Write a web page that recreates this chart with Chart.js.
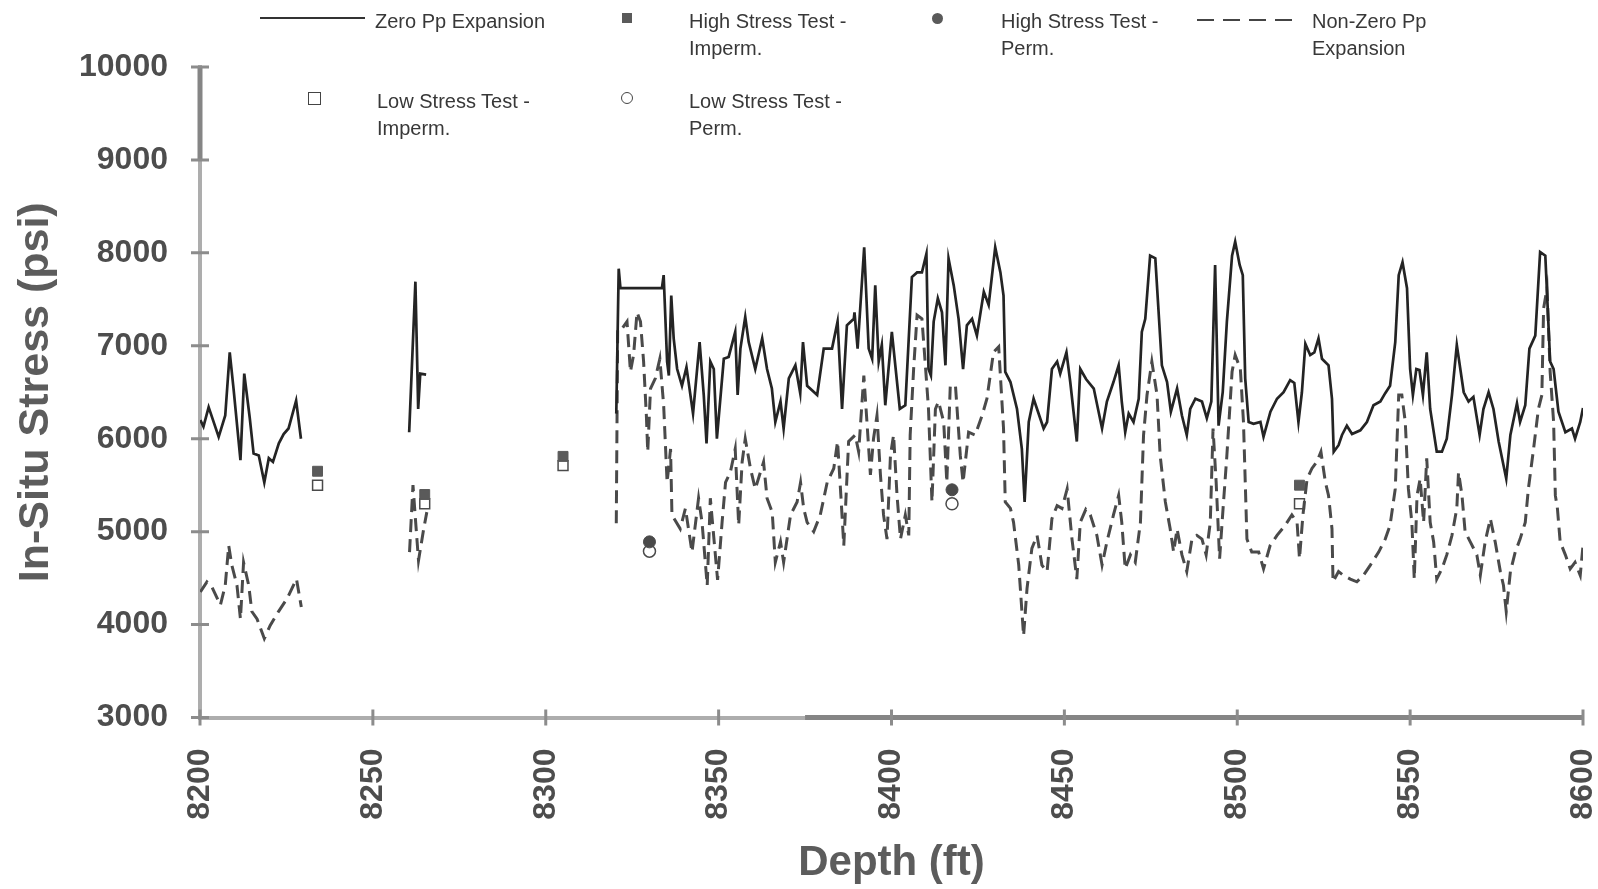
<!DOCTYPE html>
<html>
<head>
<meta charset="utf-8">
<title>In-Situ Stress vs Depth</title>
<script src="https://cdn.jsdelivr.net/npm/chart.js@4.4.1/dist/chart.umd.min.js"></script>
<style>
  html, body { margin: 0; padding: 0; background: #fff; }
  #wrap { position: relative; width: 1598px; height: 889px; overflow: hidden; }
  #stressChart { position: absolute; left: 0; top: 0; }
  .lg { position: absolute; font-family: "Liberation Sans", Arial, sans-serif; font-size: 20px;
        line-height: 26.5px; color: #383838; white-space: nowrap; }
  .mk { position: absolute; box-sizing: border-box; }
</style>
</head>
<body>
<div id="wrap">
  <canvas id="stressChart" width="1598" height="889"></canvas>

  <!-- legend, laid out like the original figure -->
  <div class="mk" style="left:260px;top:17px;width:105px;height:2px;background:#333;"></div>
  <div class="lg" style="left:375px;top:8px;">Zero Pp Expansion</div>
  <div class="mk" style="left:622px;top:13px;width:10px;height:10px;background:#5a5a5a;"></div>
  <div class="lg" style="left:689px;top:8px;">High Stress Test -<br>Imperm.</div>
  <div class="mk" style="left:932px;top:13px;width:11px;height:11px;border-radius:50%;background:#5a5a5a;"></div>
  <div class="lg" style="left:1001px;top:8px;">High Stress Test -<br>Perm.</div>
  <div class="mk" style="left:1197px;top:19px;width:102px;height:2px;background:repeating-linear-gradient(to right,#444 0 17px,transparent 17px 26px);"></div>
  <div class="lg" style="left:1312px;top:8px;">Non-Zero Pp<br>Expansion</div>
  <div class="mk" style="left:308px;top:92px;width:13px;height:13px;border:1.5px solid #444;background:#fff;"></div>
  <div class="lg" style="left:377px;top:88px;">Low Stress Test -<br>Imperm.</div>
  <div class="mk" style="left:621px;top:92px;width:12px;height:12px;border-radius:50%;border:1.5px solid #444;background:#fff;"></div>
  <div class="lg" style="left:689px;top:88px;">Low Stress Test -<br>Perm.</div>
</div>

<script>
// Zero Pp expansion (solid). null = gap in the log
const zeroDepth = [
  8200.1, 8201, 8202.5, 8205.4, 8207.3, 8208.6, 8209.7, 8211.7, 8212.8, 8214.4, 8215.5, 8217, 8218.6, 8219.9, 8221.1, 8222.8, 8224.2, 8225.6, 8227.8, 8229.2,
  8245,
  8260.5, 8262.3, 8262.9, 8263.1, 8263.7, 8265.4,
  8290,
  8320.4, 8321.1, 8321.6, 8329.3, 8333.6, 8334.1, 8335.1, 8335.6, 8336.3, 8337, 8338, 8339.4, 8340.7, 8342.6, 8344.5, 8345.7, 8346.5, 8347.6, 8348.6, 8349.5,
  8351.5, 8352.9, 8354.8, 8355.5, 8356.3, 8357.7, 8358.7, 8360.6, 8362.6, 8364, 8365.4, 8366.4, 8367.9, 8368.8, 8370.3, 8372.2, 8373.6, 8374.4, 8375.6, 8378.5,
  8380.4, 8382.8, 8384.4, 8385.7, 8387.1, 8389.1, 8389.3, 8390.2, 8392.1, 8393.4, 8394.4, 8395.3, 8396.3, 8397.2, 8398.2, 8400.1, 8402.4, 8404, 8405.9, 8407.4,
  8408.8, 8410.1, 8410.7, 8411.4, 8412.2, 8413.4, 8414.6, 8415.6, 8416.5, 8418, 8419.4, 8420.7, 8421.8, 8423.3, 8424.7, 8426.7, 8428.1, 8430, 8431.5, 8432.4,
  8432.9, 8434.4, 8436.3, 8437.7, 8438.5, 8439.7, 8441.1, 8443, 8444, 8445, 8446.4, 8447.9, 8448.8, 8450.6, 8451.7, 8453.6, 8454.6, 8456.3, 8458.5, 8460.9,
  8462.3, 8464.2, 8465.7, 8466.6, 8467.6, 8468.6, 8470, 8471.5, 8472.4, 8473.4, 8474.8, 8476.3, 8478.2, 8479.7, 8480.8, 8482.6, 8484, 8485.4, 8486.4, 8487.9,
  8489.8, 8491.2, 8492.5, 8493.6, 8494.6, 8495.8, 8497, 8498.5, 8499.4, 8500.7, 8501.6, 8502.3, 8503.3, 8504.7, 8506.7, 8507.6, 8509.6, 8511.5, 8513.4, 8515.3,
  8516.5, 8517.7, 8518.7, 8519.7, 8521.1, 8522.3, 8523.5, 8524.5, 8526.4, 8527.4, 8527.9, 8529.3, 8530.3, 8531.7, 8533.2, 8535.6, 8537.5, 8539.4, 8541.4, 8542.8,
  8544.2, 8545.7, 8546.7, 8547.8, 8549.1, 8550, 8550.8, 8551.8, 8552.7, 8553.7, 8554.8, 8555.8, 8557.7, 8559.2, 8560.6, 8562.1, 8563.5, 8565.5, 8566.9, 8568.3,
  8570.1, 8571.2, 8572.7, 8574.1, 8575.6, 8577.8, 8579, 8580.9, 8581.8, 8583.3, 8584.5, 8586.2, 8587.6, 8589.1, 8590.5, 8591.5, 8592.9, 8594.9, 8596.8, 8597.7,
  8599.2, 8600
];
const zeroStress = [
  6200, 6130, 6340, 6020, 6250, 6930, 6540, 5770, 6700, 6220, 5840, 5820, 5530, 5790, 5750, 5950, 6050, 6110, 6410, 6000,
  null,
  6070, 7690, 6680, 6320, 6700, 6690,
  null,
  6270, 7830, 7620, 7620, 7620, 7760, 6830, 6680, 7540, 7080, 6750, 6570, 6770, 6270, 7040, 6470, 5950, 6830, 6750, 6000,
  6860, 6880, 7150, 6470, 6970, 7310, 7040, 6750, 7080, 6750, 6540, 6180, 6400, 6110, 6650, 6790, 6490, 7040, 6570, 6470,
  6970, 6970, 7260, 6320, 7220, 7290, 7360, 6970, 8060, 6970, 6860, 7650, 6830, 7010, 6360, 7150, 6320, 6360, 7740, 7790,
  7790, 7990, 6750, 6680, 7260, 7510, 7360, 6790, 7940, 7650, 7290, 6750, 7220, 7290, 7110, 7580, 7440, 8060, 7790, 7540,
  6720, 6610, 6320, 5890, 5320, 6180, 6430, 6220, 6110, 6180, 6750, 6830, 6700, 6930, 6610, 5970, 6750, 6640, 6540, 6110,
  6400, 6610, 6790, 6400, 6070, 6270, 6180, 6430, 7150, 7290, 7970, 7940, 6790, 6610, 6290, 6540, 6250, 6040, 6320, 6430,
  6400, 6220, 6400, 7870, 6140, 6500, 7260, 7970, 8120, 7870, 7760, 6650, 6180, 6160, 6180, 6020, 6290, 6430, 6500, 6630,
  6600, 6180, 6500, 7020, 6900, 6930, 7080, 6860, 6790, 6430, 5860, 5930, 6040, 6140, 6050, 6090, 6180, 6360, 6400, 6490,
  6570, 7040, 7760, 7900, 7620, 6750, 6470, 6750, 6740, 6470, 6930, 6320, 5860, 5860, 6000, 6470, 7010, 6500, 6400, 6450,
  6040, 6320, 6500, 6320, 5970, 5570, 6040, 6380, 6180, 6360, 6970, 7110, 8010, 7970, 6830, 6750, 6290, 6070, 6110, 6000,
  6180, 6330
];

// Non-zero Pp expansion (dashed)
const nonZeroDepth = [
  8200.1, 8202, 8203.5, 8205.9, 8207.3, 8208.3, 8209.2, 8210.7, 8211.7, 8212.6, 8214.1, 8215, 8216.5, 8218.6, 8220.3, 8222.7, 8225.2, 8227.9, 8229.3,
  8245,
  8260.6, 8261.6, 8262.3, 8263.2, 8264.7, 8265.6,
  8290,
  8320.4, 8320.8, 8322, 8323.5, 8324.5, 8325.4, 8326.4, 8327.4, 8328.3, 8329.1, 8329.5, 8330.3, 8331.7, 8333, 8334.1, 8335.1, 8336.1, 8336.5, 8338.9, 8340.4,
  8342.3, 8344.2, 8345.2, 8346.7, 8347.6, 8349.7, 8351, 8352, 8353.4, 8354.8, 8355.8, 8356.8, 8357.7, 8359.2, 8360.6, 8363, 8364, 8365.5, 8366.4, 8367.9,
  8368.8, 8370.8, 8372.7, 8373.7, 8374.6, 8375.6, 8377.5, 8379.4, 8381.4, 8383.3, 8384.4, 8385.4, 8386.2, 8387.6, 8389.5, 8390.5, 8392, 8392.9, 8393.9, 8394.8,
  8395.8, 8396.8, 8397.7, 8398.7, 8399.7, 8400.6, 8401.6, 8402.6, 8404, 8405, 8405.4, 8406.4, 8407.4, 8408.8, 8409.8, 8410.7, 8411.7, 8412.7, 8413.6, 8415.1,
  8416, 8417, 8418.5, 8419.9, 8420.7, 8422.3, 8424.2, 8426.2, 8427.6, 8429.5, 8431, 8432.4, 8432.9, 8434.4, 8435.3, 8436.8, 8438.2, 8439.2, 8440.6, 8442.1,
  8443.5, 8445, 8446.4, 8447.9, 8449.3, 8450.8, 8452.2, 8453.6, 8454.6, 8456.2, 8457.5, 8459.4, 8460.9, 8462.3, 8464.2, 8465.7, 8466.6, 8467.6, 8469.1, 8470.5,
  8472, 8472.9, 8473.9, 8475.3, 8476.8, 8477.7, 8479.2, 8480.6, 8481.6, 8482.6, 8484, 8485.4, 8486.9, 8488.3, 8489.8, 8491, 8492.2, 8493, 8493.9, 8494.9,
  8495.9, 8497, 8498.5, 8499.4, 8500.9, 8501.8, 8502.8, 8504.2, 8506.2, 8507.6, 8509.5, 8511.5, 8513.9, 8515.8, 8517.3, 8518, 8519, 8520.2, 8521.6, 8523,
  8524.2, 8525.5, 8526.4, 8527.4, 8527.7, 8529.3, 8530.7, 8532.7, 8534.6, 8536.5, 8538.5, 8540.9, 8542.8, 8544.2, 8545.7, 8546.7, 8547.6, 8548.6, 8549.5, 8550.5,
  8551.2, 8552, 8552.9, 8553.9, 8554.8, 8555.8, 8556.8, 8557.7, 8559.2, 8560.6, 8562.1, 8563.5, 8564, 8565, 8565.9, 8567.4, 8569.3, 8570.3, 8571.7, 8573.2,
  8574.6, 8576.1, 8577, 8577.8, 8579, 8580.4, 8581.8, 8583.3, 8584.2, 8585.7, 8587.1, 8588.1, 8588.6, 8589.6, 8590.5, 8591.5, 8592, 8592.6, 8593.4, 8594.9,
  8596.3, 8597.7, 8599.2, 8600
];
const nonZeroStress = [
  4350, 4460, 4400, 4210, 4420, 4850, 4640, 4420, 4060, 4670, 4420, 4140, 4060, 3850, 3990, 4140, 4280, 4490, 4190,
  null,
  4780, 5500, 5140, 4690, 5030, 5210,
  null,
  5090, 7180, 7180, 7260, 6720, 6900, 7360, 7260, 6830, 6250, 5860, 6540, 6650, 6860, 6360, 5530, 5890, 5180, 5030, 5250,
  4780, 5360, 5100, 4420, 5360, 4480, 5100, 5530, 5640, 5890, 5070, 5750, 6000, 5680, 5460, 5750, 5360, 5210, 4670, 4890,
  4670, 5180, 5320, 5530, 5250, 5100, 5000, 5180, 5530, 5680, 5970, 5360, 4850, 5970, 6040, 5860, 6680, 6180, 5610, 6000,
  6250, 5610, 5180, 4920, 5820, 6040, 5390, 4920, 5180, 4960, 6040, 6750, 7330, 7290, 6790, 6320, 5320, 6320, 6400, 6180,
  5530, 6570, 6570, 5820, 5530, 6070, 6040, 6250, 6430, 6930, 6990, 6110, 5320, 5250, 5100, 4640, 3880, 4390, 4820, 4960,
  4640, 4570, 5140, 5280, 5250, 5460, 4920, 4490, 5100, 5240, 5180, 4960, 4640, 4890, 5180, 5390, 5100, 4600, 4750, 4670,
  5100, 6040, 6470, 6830, 6470, 5820, 5320, 5030, 4780, 5030, 4750, 4570, 4920, 4960, 4920, 4750, 5100, 6110, 5530, 4710,
  5250, 5820, 6720, 6900, 6750, 6180, 4920, 4780, 4780, 4600, 4850, 4960, 5070, 5180, 5100, 4710, 5180, 5570, 5680, 5750,
  5860, 5530, 5390, 5030, 4460, 4570, 4530, 4490, 4460, 4530, 4640, 4780, 4920, 5070, 5460, 6470, 6470, 6180, 5460, 5100,
  4490, 5390, 5570, 5100, 5790, 5100, 4890, 4490, 4600, 4750, 4960, 5250, 5640, 5390, 5000, 4890, 4750, 4530, 4890, 5140,
  4890, 4570, 4420, 4140, 4570, 4780, 4920, 5100, 5460, 5890, 6320, 6470, 7400, 7620, 6720, 6180, 5390, 5250, 4890, 4750,
  4600, 4670, 4530, 4850
];

// stress tests (psi at depth)
const impermTestDepth = [8234, 8265, 8305, 8518];
const highImpermStress = [5650, 5400, 5810, 5500];
const lowImpermStress = [5500, 5300, 5710, 5300];
const permTestDepth = [8330, 8417.5];
const highPermStress = [4890, 5450];
const lowPermStress = [4790, 5300];

const xTicks = [8200, 8250, 8300, 8350, 8400, 8450, 8500, 8550, 8600];
const yTicks = [3000, 4000, 5000, 6000, 7000, 8000, 9000, 10000];

const FONT = '"Liberation Sans", Arial, sans-serif';

function toPoints(depths, values) {
    return depths.map((d, i) => ({ x: d, y: values[i] }));
}

// crossing tick marks and the darker pieces of the axis lines
const axisMarks = {
    id: 'axisMarks',
    afterDraw(chart) {
        const { ctx, chartArea, scales: { x, y } } = chart;
        ctx.save();
        ctx.lineCap = 'butt';
        ctx.strokeStyle = '#858585';
        ctx.lineWidth = 5;
        ctx.beginPath();
        ctx.moveTo(x.getPixelForValue(8375), chartArea.bottom);
        ctx.lineTo(x.getPixelForValue(8600), chartArea.bottom);
        ctx.moveTo(chartArea.left, y.getPixelForValue(9000));
        ctx.lineTo(chartArea.left, y.getPixelForValue(10000));
        ctx.stroke();

        ctx.strokeStyle = '#8c8c8c';
        ctx.lineWidth = 3;
        ctx.beginPath();
        xTicks.forEach(v => {
            const px = x.getPixelForValue(v);
            ctx.moveTo(px, chartArea.bottom - 8);
            ctx.lineTo(px, chartArea.bottom + 8);
        });
        yTicks.forEach(v => {
            const py = y.getPixelForValue(v);
            ctx.moveTo(chartArea.left - 9, py);
            ctx.lineTo(chartArea.left + 9, py);
        });
        ctx.stroke();
        ctx.restore();
    }
};

const ctx = document.getElementById('stressChart');
new Chart(ctx, {
    type: 'scatter',
    data: {
        datasets: [
            {
                label: 'Zero Pp Expansion',
                data: toPoints(zeroDepth, zeroStress),
                showLine: true,
                spanGaps: false,
                borderColor: '#242424',
                borderWidth: 2.7,
                pointRadius: 0,
                tension: 0
            },
            {
                label: 'Non-Zero Pp Expansion',
                data: toPoints(nonZeroDepth, nonZeroStress),
                showLine: true,
                spanGaps: false,
                borderColor: '#4a4a4a',
                borderWidth: 3,
                borderDash: [13, 7],
                pointRadius: 0,
                tension: 0
            },
            {
                label: 'High Stress Test - Imperm.',
                data: toPoints(impermTestDepth, highImpermStress),
                pointStyle: 'rect',
                pointRadius: 7,
                backgroundColor: '#5a5a5a',
                borderColor: '#5a5a5a',
                borderWidth: 1
            },
            {
                label: 'Low Stress Test - Imperm.',
                data: toPoints(impermTestDepth, lowImpermStress),
                pointStyle: 'rect',
                pointRadius: 7,
                backgroundColor: '#ffffff',
                borderColor: '#4a4a4a',
                borderWidth: 1.5
            },
            {
                label: 'High Stress Test - Perm.',
                data: toPoints(permTestDepth, highPermStress),
                pointStyle: 'circle',
                pointRadius: 6,
                backgroundColor: '#4a4a4a',
                borderColor: '#4a4a4a',
                borderWidth: 1
            },
            {
                label: 'Low Stress Test - Perm.',
                data: toPoints(permTestDepth, lowPermStress),
                pointStyle: 'circle',
                pointRadius: 6,
                backgroundColor: '#ffffff',
                borderColor: '#4a4a4a',
                borderWidth: 1.5
            }
        ]
    },
    options: {
        responsive: false,
        animation: false,
        layout: { padding: { top: 67, right: 0, left: 0, bottom: 0 } },
        plugins: {
            legend: { display: false },
            tooltip: { enabled: false }
        },
        scales: {
            x: {
                type: 'linear',
                min: 8200,
                max: 8600,
                afterFit: s => { s.height = 171.5; s.paddingLeft = 0; s.paddingRight = 15; },
                afterBuildTicks: s => { s.ticks = xTicks.map(v => ({ value: v })); },
                ticks: {
                    minRotation: 90,
                    maxRotation: 90,
                    padding: 31,
                    color: '#4d4d4d',
                    font: { family: FONT, size: 32, weight: 'bold' },
                    callback: v => String(v)
                },
                grid: { drawOnChartArea: false, drawTicks: false },
                border: { color: '#adadad', width: 4 },
                title: {
                    display: true,
                    text: 'Depth (ft)',
                    color: '#5c5c5c',
                    font: { family: FONT, size: 42, weight: 'bold' },
                    padding: { top: 0, bottom: 0 }
                }
            },
            y: {
                min: 3000,
                max: 10000,
                afterFit: s => { s.width = 200; },
                afterBuildTicks: s => { s.ticks = yTicks.map(v => ({ value: v })); },
                ticks: {
                    padding: 32,
                    color: '#4d4d4d',
                    font: { family: FONT, size: 32, weight: 'bold' },
                    callback: v => String(v)
                },
                grid: { drawOnChartArea: false, drawTicks: false },
                border: { color: '#adadad', width: 4 },
                title: {
                    display: true,
                    text: 'In-Situ Stress (psi)',
                    color: '#5c5c5c',
                    font: { family: FONT, size: 43, weight: 'bold' },
                    padding: { top: 10, bottom: 0 }
                }
            }
        }
    },
    plugins: [axisMarks]
});
</script>
</body>
</html>
